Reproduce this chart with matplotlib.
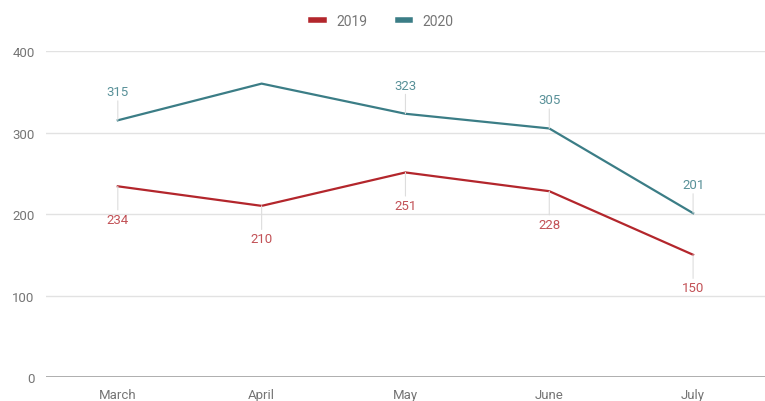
import matplotlib.pyplot as plt
import numpy as np

months = ["March", "April", "May", "June", "July"]
sales_2019 = [234, 210, 251, 228, 150]
sales_2020 = [315, 360, 323, 305, 201]
labels_2019 = ["234", "210", "251", "228", "150"]
labels_2020 = ["315", "", "323", "305", "201"]

red = "#b3262c"
teal = "#3b7d86"
grey = "#757575"

plt.rcParams['font.family'] = ['Roboto', 'DejaVu Sans']

fig = plt.figure(figsize=(7.65, 4.02), dpi=100)
ax = fig.add_axes([0.060, 0.0597, 0.940, 0.8109])

x = np.arange(len(months))
ax.plot(x, sales_2019, color=red, lw=1.6, label="2019", zorder=3, clip_on=False)
ax.plot(x, sales_2020, color=teal, lw=1.6, label="2020", zorder=3, clip_on=False)

# etiquetas con linea guia, como en Google Sheets
for i in x:
    if labels_2020[i]:
        ax.annotate(labels_2020[i], (i, sales_2020[i]), xytext=(0, 16), textcoords="offset points",
                    ha="center", va="bottom", fontsize=9.5, color=teal, alpha=0.85,
                    arrowprops=dict(arrowstyle="-", color="#dddddd", lw=0.8, shrinkA=0, shrinkB=0))
    ax.annotate(labels_2019[i], (i, sales_2019[i]), xytext=(0, -19), textcoords="offset points",
                ha="center", va="top", fontsize=9.5, color=red, alpha=0.8,
                arrowprops=dict(arrowstyle="-", color="#dddddd", lw=0.8, shrinkA=0, shrinkB=0))

ax.set_xlim(-0.5, 4.5)
ax.set_ylim(0, 400)
ax.set_yticks([0, 100, 200, 300, 400])
ax.set_xticks(x)
ax.set_xticklabels(months)
ax.tick_params(length=0, labelsize=9.5, labelcolor=grey)
ax.tick_params(axis="y", pad=8)
ax.tick_params(axis="x", pad=8)
ax.grid(axis="y", color="#e2e2e2", lw=1.0)
ax.axhline(0, color="#999999", lw=1.8, zorder=2)
for s in ax.spines.values():
    s.set_visible(False)

leg = fig.legend(loc="upper center", bbox_to_anchor=(0.5, 0.995), ncol=2, frameon=False,
                 fontsize=10, handlelength=0.9, handletextpad=0.9, columnspacing=2.2)
for h in leg.get_lines():
    h.set_linewidth(4)
for t in leg.get_texts():
    t.set_color(grey)

plt.savefig("out.png", dpi=100)
